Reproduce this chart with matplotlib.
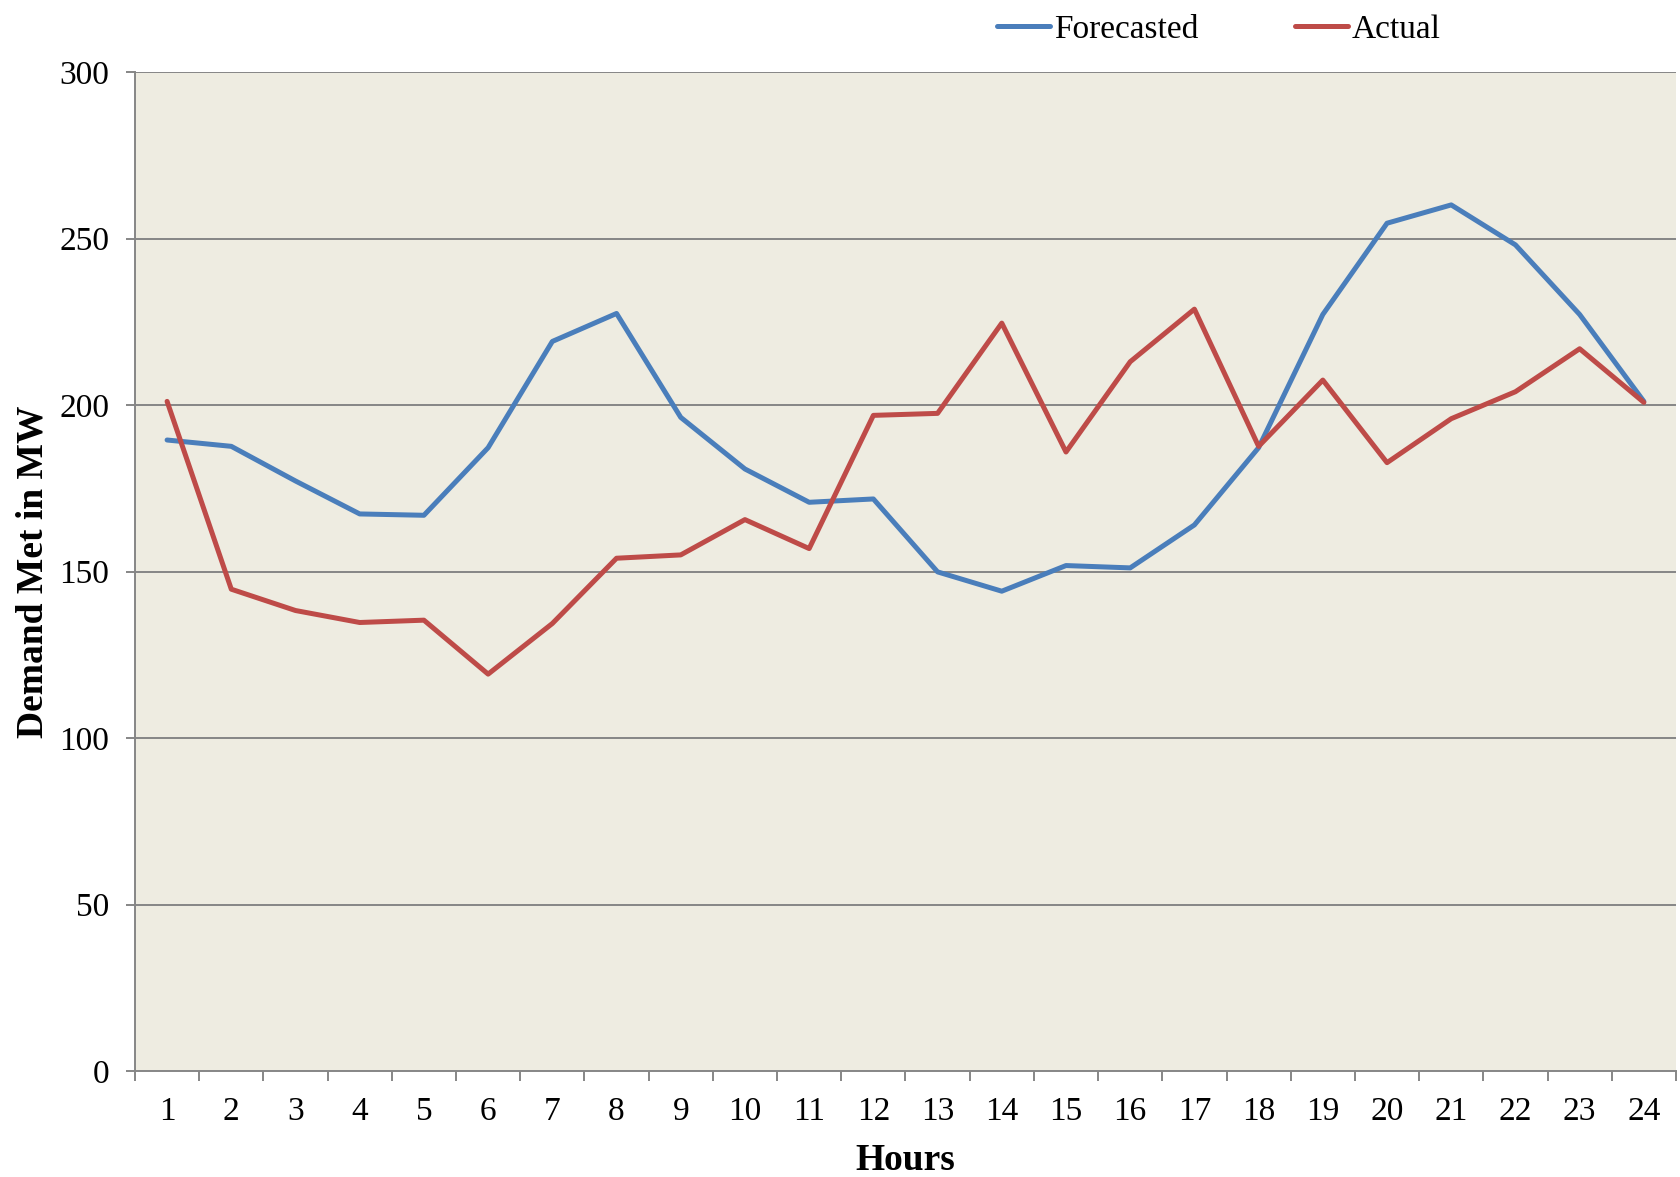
import matplotlib
matplotlib.use("Agg")
import matplotlib.pyplot as plt
import numpy as np

hours = list(range(1, 25))
forecasted = [189.5, 187.6, 177.2, 167.3, 166.9, 187.2, 219.1, 227.5, 196.3, 180.8,
              170.8, 171.8, 149.9, 144.1, 151.8, 151.1, 164.0, 187.2, 227.2, 254.6,
              260.1, 248.1, 227.2, 201.1]
actual = [201.1, 144.7, 138.3, 134.7, 135.4, 119.2, 134.4, 154.0, 155.0, 165.6,
          156.9, 196.9, 197.5, 224.6, 185.9, 213.0, 228.8, 187.6, 207.5, 182.7,
          195.9, 204.0, 216.9, 200.8]
yticks = [0, 50, 100, 150, 200, 250, 300]

plt.rcParams['font.family'] = ['Liberation Serif', 'DejaVu Serif']

fig = plt.figure(figsize=(16.81, 11.77), dpi=100)
ax = fig.add_axes([0.0803, 0.090, 0.9167, 0.8488])
ax.set_facecolor('#EEECE1')

for y in yticks[1:]:
    ax.axhline(y, color='#868686', lw=1.4, zorder=1)

l1, = ax.plot(hours, forecasted, color='#4A7EBB', lw=3.6, solid_capstyle='round', zorder=3, label='Forecasted')
l2, = ax.plot(hours, actual, color='#BE4B48', lw=3.6, solid_capstyle='round', zorder=3, label='Actual')

ax.set_xlim(0.5, 24.5)
ax.set_ylim(0, 300)
ax.set_yticks(yticks)
ax.set_xticks(hours)
ax.set_xticks(np.arange(0.5, 25, 1), minor=True)
ax.tick_params(axis='x', which='major', length=0, labelsize=24, pad=18, colors='black')
ax.tick_params(axis='x', which='minor', length=7, width=1.4, color='#868686', direction='out')
ax.tick_params(axis='y', length=6.5, width=1.4, color='#868686', labelsize=24, pad=12)

for s in ['top', 'right']:
    ax.spines[s].set_visible(False)
for s in ['left', 'bottom']:
    ax.spines[s].set_color('#868686')
    ax.spines[s].set_linewidth(1.4)

ax.set_xlabel('Hours', fontsize=27, fontweight='bold', labelpad=12)
ax.set_ylabel('Demand Met in MW', fontsize=27, fontweight='bold', labelpad=6)

fig.legend(handles=[l1, l2], loc='center', bbox_to_anchor=(0.725, 0.975), ncol=2,
           frameon=False, fontsize=24, handlelength=1.6, handletextpad=0.1,
           columnspacing=2.9)

fig.savefig('out.png', dpi=100)
